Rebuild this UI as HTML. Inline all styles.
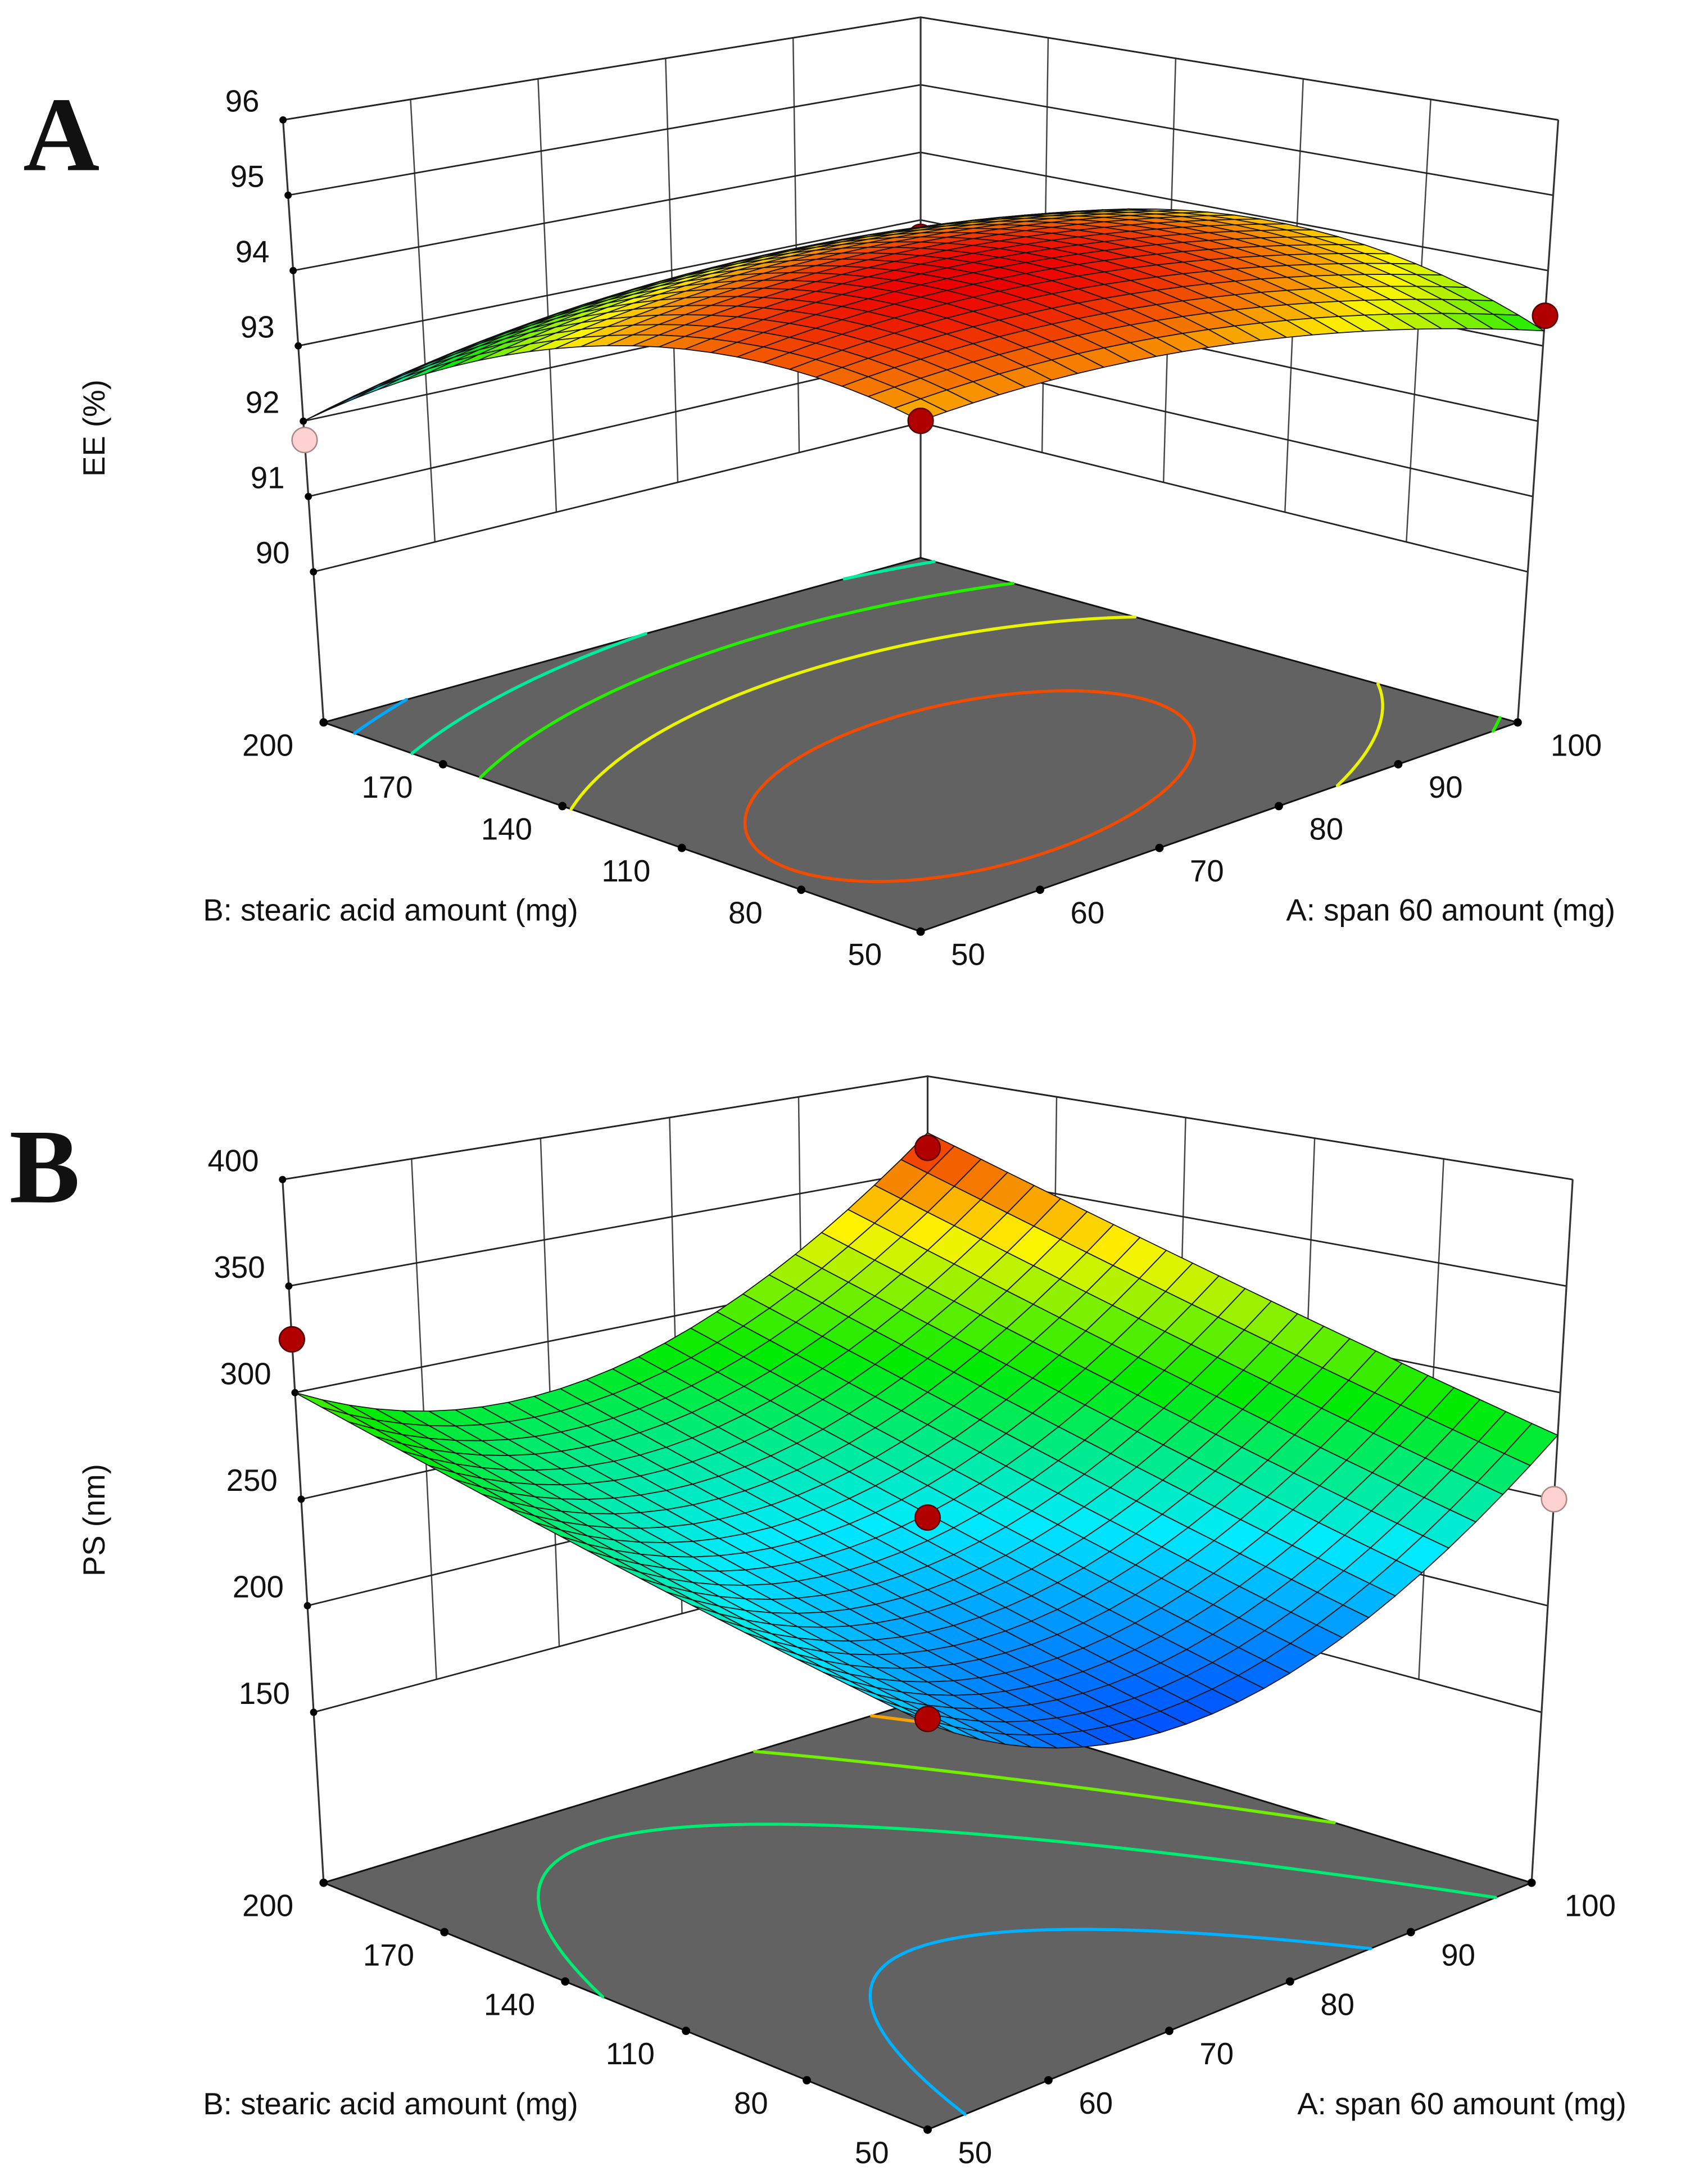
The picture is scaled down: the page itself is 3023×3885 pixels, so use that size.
<!DOCTYPE html>
<html><head><meta charset="utf-8"><style>
html,body{margin:0;padding:0;background:#fff;}
svg{display:block;}
text{font-family:"Liberation Sans","DejaVu Sans",sans-serif;fill:#111;}
</style></head>
<body>
<svg id="fig" width="3023" height="3885" viewBox="0 0 1218 1566" preserveAspectRatio="none" xmlns="http://www.w3.org/2000/svg">
<text x="44" y="122" text-anchor="middle" style="font-family:'Liberation Serif',serif;font-weight:bold;font-size:76px">A</text>
<text x="32" y="862" text-anchor="middle" style="font-family:'Liberation Serif',serif;font-weight:bold;font-size:76px">B</text>
<g id="plotA"></g>
<g id="plotB"></g>
</svg>
<script>
// ---- shared axis data ----
const aTicks = [50, 60, 70, 80, 90, 100];
const bTicks = [50, 80, 110, 140, 170, 200];
// ---- EE chart data ----
const eeTicks = [90, 91, 92, 93, 94, 95, 96];
const eeCoef = [94.4, -0.025, -0.625, -0.425, -1.0, 0.375]; // c0,cA,cB,cAA,cBB,cAB (coded units)
const eeLevels = [92.3, 92.8, 93.3, 93.8, 94.3];
const eeDotA = [100, 50, 100, 50];
const eeDotB = [200, 50, 50, 200];
const eeDotZ = [92.75, 94.0, 93.4, 91.75];
const eeDotPink = [0, 0, 0, 1];
// ---- PS chart data ----
const psTicks = [150, 200, 250, 300, 350, 400];
const psCoef = [236.25, 28.75, 38.75, 55, 5, 6.25];
const psLevels = [225, 265, 305, 345];
const psDotA = [50, 100, 75, 50, 100];
const psDotB = [200, 200, 125, 50, 50];
const psDotZ = [325, 362, 247, 237, 250];
const psDotPink = [0, 0, 0, 0, 1];

const NS = "http://www.w3.org/2000/svg";
function mk(parent, tag, attrs, name) {
  const el = document.createElementNS(NS, tag);
  for (const k in attrs) el.setAttribute(k, attrs[k]);
  
  
  parent.appendChild(el);
  return el;
}
function cmap(t) {
  t = Math.max(0, Math.min(1, t));
  const st = [[0, [0, 60, 255]], [0.25, [0, 235, 255]], [0.5, [0, 235, 0]], [0.75, [255, 245, 0]], [1, [235, 0, 0]]];
  for (let i = 0; i < st.length - 1; i++) {
    if (t <= st[i + 1][0]) {
      const f = (t - st[i][0]) / (st[i + 1][0] - st[i][0]);
      const c = st[i][1].map((v, k) => Math.round(v + (st[i + 1][1][k] - v) * f));
      return `rgb(${c[0]},${c[1]},${c[2]})`;
    }
  }
  return 'rgb(235,0,0)';
}
function pts(arr) { return arr.map(p => p[0].toFixed(2) + ',' + p[1].toFixed(2)).join(' '); }

function makePlot(g, cfg) {
  const {F, R, L, K, zmin, zmax, sL, zTicks, coef, cmin, cmax, levels} = cfg;
  const codeA = v => (v - 75) / 25, codeB = v => (v - 125) / 75;
  const f = (a, b) => coef[0] + coef[1] * a + coef[2] * b + coef[3] * a * a + coef[4] * b * b + coef[5] * a * b;
  function floorPt(a, b) {
    const u = (a + 1) / 2, v = (b + 1) / 2;
    const x = F[0] * (1 - u) * (1 - v) + R[0] * u * (1 - v) + L[0] * (1 - u) * v + K[0] * u * v;
    const y = F[1] * (1 - u) * (1 - v) + R[1] * u * (1 - v) + L[1] * (1 - u) * v + K[1] * u * v;
    return [x, y];
  }
  function proj(a, b, z) {
    const [x, y] = floorPt(a, b);
    const s = sL * (1 + (y - L[1]) * 0.00087);
    const t = (z - zmin) / (zmax - zmin);
    return [x + (x - K[0]) * 0.068 * t, y - (z - zmin) * s];
  }
  const zLo = zTicks[0];
  mk(g, 'polygon', {points: pts([proj(-1, 1, zLo), proj(1, 1, zLo), proj(1, 1, zmax), proj(-1, 1, zmax)]), fill: '#fff'}, 'back-left-wall');
  mk(g, 'polygon', {points: pts([proj(1, -1, zLo), proj(1, 1, zLo), proj(1, 1, zmax), proj(1, -1, zmax)]), fill: '#fff'}, 'back-right-wall');
  aTicks.forEach(v => {
    const a = codeA(v), p = proj(a, 1, zLo), q = proj(a, 1, zmax);
    mk(g, 'line', {x1: p[0], y1: p[1], x2: q[0], y2: q[1], stroke: '#444', 'stroke-width': 1}, 'wall-gridline-a');
  });
  bTicks.forEach(v => {
    const b = codeB(v), p = proj(1, b, zLo), q = proj(1, b, zmax);
    mk(g, 'line', {x1: p[0], y1: p[1], x2: q[0], y2: q[1], stroke: '#444', 'stroke-width': 1}, 'wall-gridline-b');
  });
  zTicks.concat([zmax]).forEach(z => {
    mk(g, 'polyline', {points: pts([proj(-1, 1, z), proj(1, 1, z), proj(1, -1, z)]), fill: 'none', stroke: '#222', 'stroke-width': 1.1}, 'wall-gridline-z');
  });
  [[-1, 1], [1, 1], [1, -1]].forEach(c => {
    const p = proj(c[0], c[1], zmin), q = proj(c[0], c[1], zmax);
    mk(g, 'line', {x1: p[0], y1: p[1], x2: q[0], y2: q[1], stroke: '#333', 'stroke-width': 1.3}, 'corner-axis-line');
  });
  zTicks.forEach(z => {
    const p = proj(-1, 1, z);
    mk(g, 'circle', {cx: p[0], cy: p[1], r: 2.6, fill: '#000'}, 'z-tick-mark');
    const t = mk(g, 'text', {x: p[0] - 17, y: p[1] - 6, 'text-anchor': 'end', 'font-size': 22}, 'z-tick-label');
    t.textContent = z;
  });
  mk(g, 'polygon', {points: pts([F, R, K, L]), fill: '#626262', stroke: '#111', 'stroke-width': 1.2}, 'floor-contour-plane');
  const M = 80;
  levels.forEach(lv => {
    let d = '';
    for (let i = 0; i < M; i++) for (let j = 0; j < M; j++) {
      const a0 = -1 + 2 * i / M, a1 = -1 + 2 * (i + 1) / M, b0 = -1 + 2 * j / M, b1 = -1 + 2 * (j + 1) / M;
      const c = [[a0, b0], [a1, b0], [a1, b1], [a0, b1]];
      const v = c.map(p => f(p[0], p[1]) - lv);
      const cr = [];
      for (let e = 0; e < 4; e++) {
        const p1 = c[e], p2 = c[(e + 1) % 4], v1 = v[e], v2 = v[(e + 1) % 4];
        if ((v1 < 0) !== (v2 < 0)) {
          const t = v1 / (v1 - v2);
          cr.push(floorPt(p1[0] + (p2[0] - p1[0]) * t, p1[1] + (p2[1] - p1[1]) * t));
        }
      }
      for (let k = 0; k + 1 < cr.length; k += 2) d += `M${cr[k][0].toFixed(2)},${cr[k][1].toFixed(2)}L${cr[k + 1][0].toFixed(2)},${cr[k + 1][1].toFixed(2)}`;
    }
    mk(g, 'path', {d: d, fill: 'none', stroke: cmap((lv - cmin) / (cmax - cmin)), 'stroke-width': 2.2, 'stroke-linecap': 'round'}, 'contour-line');
  });
  bTicks.forEach(v => {
    const p = floorPt(-1, codeB(v));
    mk(g, 'circle', {cx: p[0], cy: p[1], r: 3, fill: '#000'}, 'b-tick-mark');
    const t = mk(g, 'text', {x: p[0] - 40, y: p[1] + 24, 'text-anchor': 'middle', 'font-size': 22}, 'b-tick-label');
    t.textContent = v;
  });
  aTicks.forEach(v => {
    const p = floorPt(codeA(v), -1);
    mk(g, 'circle', {cx: p[0], cy: p[1], r: 3, fill: '#000'}, 'a-tick-mark');
    const t = mk(g, 'text', {x: p[0] + (v === 100 ? 42 : 34), y: p[1] + 24, 'text-anchor': 'middle', 'font-size': 22}, 'a-tick-label');
    t.textContent = v;
  });
  return {proj, f};
}

function drawDots(g, P, A, B, Z, pink, idxs) {
  idxs.forEach(i => {
    const p = P.proj((A[i] - 75) / 25, (B[i] - 125) / 75, Z[i]);
    mk(g, 'circle', {cx: p[0], cy: p[1], r: 9, fill: pink[i] ? '#ffd2d2' : '#b00000', stroke: pink[i] ? '#a88' : '#500', 'stroke-width': 1}, 'design-point');
  });
}
function drawSurface(g, P, cmin, cmax) {
  const N = 24, quads = [];
  for (let i = 0; i < N; i++) for (let j = 0; j < N; j++) {
    const a0 = -1 + 2 * i / N, a1 = -1 + 2 * (i + 1) / N, b0 = -1 + 2 * j / N, b1 = -1 + 2 * (j + 1) / N;
    quads.push([a0, a1, b0, b1]);
  }
  quads.sort((q, r) => (r[0] + r[2]) - (q[0] + q[2]));
  const sg = mk(g, 'g', {}, 'response-surface');
  quads.forEach(q => {
    const c = [[q[0], q[2]], [q[1], q[2]], [q[1], q[3]], [q[0], q[3]]];
    const zs = c.map(p => P.f(p[0], p[1]));
    const zm = zs.reduce((s, v) => s + v, 0) / 4;
    const ps = c.map((p, k) => P.proj(p[0], p[1], zs[k]));
    mk(sg, 'polygon', {points: pts(ps), fill: cmap((zm - cmin) / (cmax - cmin)), stroke: '#111', 'stroke-width': 0.7, 'stroke-linejoin': 'round'}, 'surface-cell');
  });
}

const gA = document.getElementById('plotA');
const PA = makePlot(gA, {F: [660, 668], R: [1088, 518], L: [232, 518], K: [660, 400], zmin: 88, zmax: 96, sL: 54,
  zTicks: eeTicks, coef: eeCoef, cmin: 91.9, cmax: 94.5, levels: eeLevels});
drawDots(gA, PA, eeDotA, eeDotB, eeDotZ, eeDotPink, [0]);
drawSurface(gA, PA, 91.9, 94.5);
drawDots(gA, PA, eeDotA, eeDotB, eeDotZ, eeDotPink, [1, 2, 3]);
let t = mk(gA, 'text', {x: 280, y: 660, 'text-anchor': 'middle', 'font-size': 22}, 'x-axis-title-b');
t.textContent = 'B: stearic acid amount (mg)';
t = mk(gA, 'text', {x: 1040, y: 660, 'text-anchor': 'middle', 'font-size': 22}, 'x-axis-title-a');
t.textContent = 'A: span 60 amount (mg)';
t = mk(gA, 'text', {x: 0, y: 0, 'text-anchor': 'middle', 'font-size': 22, transform: 'translate(75,307) rotate(-90)'}, 'z-axis-title');
t.textContent = 'EE (%)';

const gB = document.getElementById('plotB');
const PB = makePlot(gB, {F: [665, 1527], R: [1098, 1350], L: [232, 1350], K: [665, 1218], zmin: 70, zmax: 400, sL: 1.528,
  zTicks: psTicks, coef: psCoef, cmin: 195, cmax: 375, levels: psLevels});
drawSurface(gB, PB, 195, 375);
drawDots(gB, PB, psDotA, psDotB, psDotZ, psDotPink, [0, 1, 2, 3, 4]);
t = mk(gB, 'text', {x: 280, y: 1516, 'text-anchor': 'middle', 'font-size': 22}, 'x-axis-title-b');
t.textContent = 'B: stearic acid amount (mg)';
t = mk(gB, 'text', {x: 1048, y: 1516, 'text-anchor': 'middle', 'font-size': 22}, 'x-axis-title-a');
t.textContent = 'A: span 60 amount (mg)';
t = mk(gB, 'text', {x: 0, y: 0, 'text-anchor': 'middle', 'font-size': 22, transform: 'translate(75,1090) rotate(-90)'}, 'z-axis-title');
t.textContent = 'PS (nm)';
</script>
</body></html>
